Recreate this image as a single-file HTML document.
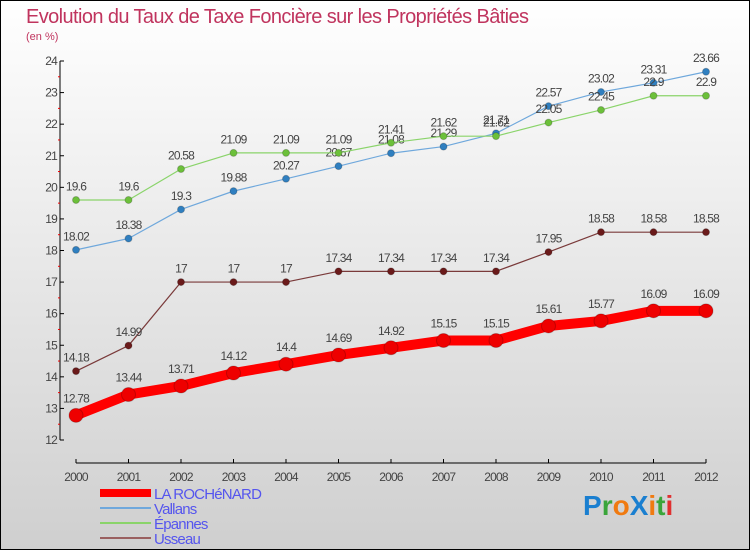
<!DOCTYPE html>
<html><head><meta charset="utf-8"><style>
body{margin:0;}
svg text{font-family:"Liberation Sans",sans-serif;}
</style></head><body>
<svg width="750" height="550" xmlns="http://www.w3.org/2000/svg">
<defs><linearGradient id="bg" x1="0" y1="0" x2="0" y2="1"><stop offset="0" stop-color="#ffffff"/><stop offset="1" stop-color="#cfcfcf"/></linearGradient></defs>
<rect x="0.5" y="0.5" width="749" height="549" fill="url(#bg)" stroke="#000"/>
<text x="26" y="23" font-size="20" fill="#c0345e" letter-spacing="-0.6">Evolution du Taux de Taxe Foncière sur les Propriétés Bâties</text>
<text x="26" y="40" font-size="11" fill="#c0345e">(en %)</text>
<g id="axes"></g>
<g id="series"></g>
<g id="legend"></g>
<g font-size="28" font-weight="bold">
<text x="583" y="515"><tspan fill="#1a7fd0">P</tspan><tspan fill="#3aa53a">r</tspan><tspan fill="#f07a10">o</tspan><tspan fill="#1a7fd0">X</tspan><tspan fill="#f07a10">i</tspan><tspan fill="#3aa53a">t</tspan><tspan fill="#e03030">i</tspan></text>
</g>
</svg>
<script>
const years=["2000","2001","2002","2003","2004","2005","2006","2007","2008","2009","2010","2011","2012"];
const yTicks=[12,13,14,15,16,17,18,19,20,21,22,23,24];
const laRochenard=[12.78,13.44,13.71,14.12,14.4,14.69,14.92,15.15,15.15,15.61,15.77,16.09,16.09];
const vallans=[18.02,18.38,19.3,19.88,20.27,20.67,21.08,21.29,21.71,22.57,23.02,23.31,23.66];
const epannes=[19.6,19.6,20.58,21.09,21.09,21.09,21.41,21.62,21.62,22.05,22.45,22.9,22.9];
const usseau=[14.18,14.99,17,17,17,17.34,17.34,17.34,17.34,17.95,18.58,18.58,18.58];

const NS="http://www.w3.org/2000/svg";
const X=i=>76+i*(630/(years.length-1));
const Y=v=>440-(v-12)*(379/12);
function mk(tag,attrs,parent){const e=document.createElementNS(NS,tag);for(const k in attrs)e.setAttribute(k,attrs[k]);parent.appendChild(e);return e;}
const axes=document.getElementById('axes');
let e=mk('line',{x1:60,y1:Y(24),x2:60,y2:Y(12),stroke:'#000','stroke-width':1},axes);


e=mk('line',{x1:76,y1:463,x2:706,y2:463,stroke:'#000','stroke-width':1},axes);


yTicks.forEach((v,i)=>{
  mk('line',{x1:60,y1:Y(v),x2:64,y2:Y(v),stroke:'#000'},axes);
  const t=mk('text',{x:57,y:Y(v)+4,'font-size':12,'text-anchor':'end',fill:'#444','letter-spacing':'-0.8'},axes);
  t.textContent=v;
  
  
  if(i<yTicks.length-1) mk('line',{x1:58,y1:Y(v+0.5),x2:60,y2:Y(v+0.5),stroke:'#e00'},axes);
});
years.forEach((y,i)=>{
  mk('line',{x1:X(i),y1:459,x2:X(i),y2:463,stroke:'#000'},axes);
  const t=mk('text',{x:X(i),y:481,'font-size':12,'text-anchor':'middle',fill:'#444','letter-spacing':'-0.8'},axes);
  t.textContent=y;
  
  
});
const series=[
  {name:'usseau',data:usseau,color:'#7a3a3a',mk:'#6a1a1a',w:1.2,r:3.5},
  {name:'vallans',data:vallans,color:'#6fa8dc',mk:'#2f7fc0',w:1.2,r:3.5},
  {name:'epannes',data:epannes,color:'#8ad46a',mk:'#6cc03a',w:1.2,r:3.5},
  {name:'la-rochenard',data:laRochenard,color:'#ff0000',mk:'#ee0000',w:10,r:7}
];
const sg=document.getElementById('series');
series.forEach(s=>{
  const g=mk('g',{},sg);
  
  
  const p=mk('polyline',{points:s.data.map((v,i)=>X(i)+','+Y(v)).join(' '),fill:'none',stroke:s.color,'stroke-width':s.w,'stroke-linejoin':'round'},g);
  
  
  s.data.forEach((v,i)=>{
    const c=mk('circle',{cx:X(i),cy:Y(v),r:s.r,fill:s.mk,stroke:'rgba(0,0,0,0.2)'},g);
    
    
    const t=mk('text',{x:X(i),y:Y(v)-(s.r+6),'font-size':12,'text-anchor':'middle',fill:'#444','letter-spacing':'-0.8'},g);
    t.textContent=String(v);
    
    
  });
});
const legendItems=[
  {label:'LA ROCHéNARD',color:'#ff0000',w:8},
  {label:'Vallans',color:'#6fa8dc',w:2},
  {label:'Épannes',color:'#8ad46a',w:2},
  {label:'Usseau',color:'#9a6060',w:2}
];
const lg=document.getElementById('legend');
legendItems.forEach((it,i)=>{
  const y=493+i*15;
  const g=mk('g',{},lg);
  
  
  mk('line',{x1:100,y1:y,x2:151,y2:y,stroke:it.color,'stroke-width':it.w},g);
  const t=mk('text',{x:154,y:y+6,'font-size':15,fill:'#5555ee','letter-spacing':'-0.8'},g);
  t.textContent=it.label;
});
</script>
</body></html>
